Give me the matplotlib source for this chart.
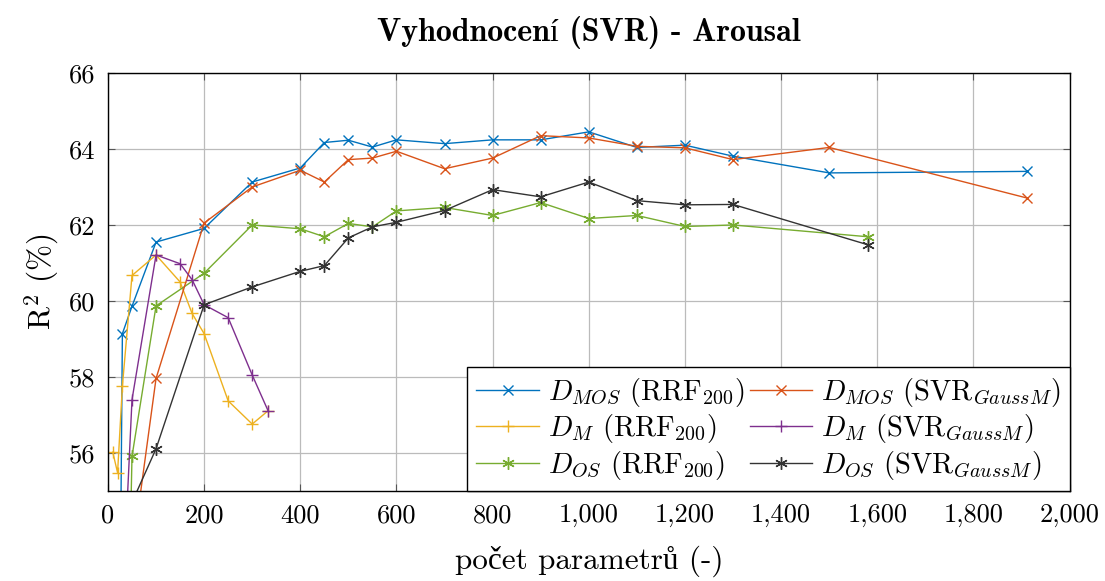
import matplotlib.pyplot as plt
from matplotlib.ticker import FuncFormatter, MultipleLocator

plt.rcParams['font.family'] = ['cmr10', 'Liberation Serif']
plt.rcParams['mathtext.fontset'] = 'cm'
plt.rcParams['axes.formatter.use_mathtext'] = True

# data
x_mos_rrf = [25, 30, 50, 100, 200, 300, 400, 450, 500, 550, 600, 700, 800, 900, 1000, 1100, 1200, 1300, 1500, 1911]
y_mos_rrf = [51.5, 59.14, 59.86, 61.55, 61.91, 63.13, 63.5, 64.17, 64.23, 64.05, 64.24, 64.14, 64.24, 64.24, 64.45, 64.04, 64.1, 63.81, 63.37, 63.41]

x_mos_svr = [50, 100, 200, 300, 400, 450, 500, 550, 600, 700, 800, 900, 1000, 1100, 1200, 1300, 1500, 1911]
y_mos_svr = [53.3, 57.96, 62.05, 63.0, 63.44, 63.13, 63.72, 63.76, 63.94, 63.48, 63.76, 64.35, 64.29, 64.07, 64.03, 63.72, 64.04, 62.71]

x_m_rrf = [10, 20, 30, 50, 100, 150, 175, 200, 250, 300, 333]
y_m_rrf = [56.02, 55.48, 57.76, 60.67, 61.21, 60.5, 59.67, 59.14, 57.37, 56.76, 57.11]

x_m_svr = [30, 50, 100, 150, 175, 200, 250, 300, 333]
y_m_svr = [52.0, 57.4, 61.21, 60.98, 60.56, 59.9, 59.56, 58.05, 57.11]

x_os_rrf = [40, 50, 100, 200, 300, 400, 450, 500, 550, 600, 700, 800, 900, 1000, 1100, 1200, 1300, 1580]
y_os_rrf = [50.0, 55.91, 59.87, 60.73, 62.0, 61.9, 61.69, 62.04, 61.95, 62.37, 62.46, 62.25, 62.59, 62.17, 62.25, 61.96, 62.0, 61.69]

x_os_svr = [50, 100, 200, 300, 400, 450, 500, 550, 600, 700, 800, 900, 1000, 1100, 1200, 1300, 1580]
y_os_svr = [54.7, 56.11, 59.9, 60.37, 60.78, 60.93, 61.66, 61.95, 62.07, 62.38, 62.93, 62.74, 63.13, 62.64, 62.53, 62.54, 61.48]

star = (6, 2, 0)

fig = plt.figure(figsize=(11.05, 5.81), dpi=100)
ax = fig.add_axes([0.0977, 0.155, 0.8703, 0.7194])

ax.plot(x_mos_rrf, y_mos_rrf, color='#0072BD', marker='x', ms=7, lw=1.0, label=r'$D_{MOS}$ (RRF$_{200}$)')
ax.plot(x_m_rrf, y_m_rrf, color='#EDB120', marker='+', ms=9, lw=1.0, label=r'$D_{M}$ (RRF$_{200}$)')
ax.plot(x_os_rrf, y_os_rrf, color='#77AC30', marker=star, ms=9, lw=1.0, label=r'$D_{OS}$ (RRF$_{200}$)')
ax.plot(x_mos_svr, y_mos_svr, color='#D95319', marker='x', ms=7, lw=1.0, label=r'$D_{MOS}$ (SVR$_{GaussM}$)')
ax.plot(x_m_svr, y_m_svr, color='#7E2F8E', marker='+', ms=9, lw=1.0, label=r'$D_{M}$ (SVR$_{GaussM}$)')
ax.plot(x_os_svr, y_os_svr, color='#333333', marker=star, ms=9, lw=1.0, label=r'$D_{OS}$ (SVR$_{GaussM}$)')

ax.set_xlim(0, 2000)
ax.set_ylim(55, 66)
ax.xaxis.set_major_locator(MultipleLocator(200))
ax.yaxis.set_major_locator(MultipleLocator(2))
ax.xaxis.set_major_formatter(FuncFormatter(lambda v, p: f'{int(v):,}'))
ax.yaxis.set_major_formatter(FuncFormatter(lambda v, p: f'{int(v)}'))
ax.grid(True, color='#bbbbbb', lw=0.9)
ax.tick_params(direction='in', top=True, right=True, length=5, color='#555555', labelsize=19, pad=9)
for s in ax.spines.values():
    s.set_linewidth(1.0)

ax.set_title('Vyhodnocení (SVR) - Arousal', fontsize=23, family=['cmb10', 'Liberation Serif'], pad=23)
ax.set_xlabel('počet parametrů (-)', fontsize=22.5, labelpad=13)
ax.set_ylabel(r'R$^2$ (%)', fontsize=22.5, labelpad=6)

ax.legend(loc='lower right', ncol=2, fontsize=20.5, frameon=True, fancybox=False, edgecolor='black',
          borderaxespad=0, handlelength=2.2, handletextpad=0.3, columnspacing=0.2, labelspacing=0.12,
          borderpad=0.32, framealpha=1)

fig.savefig('out.png', dpi=100)
